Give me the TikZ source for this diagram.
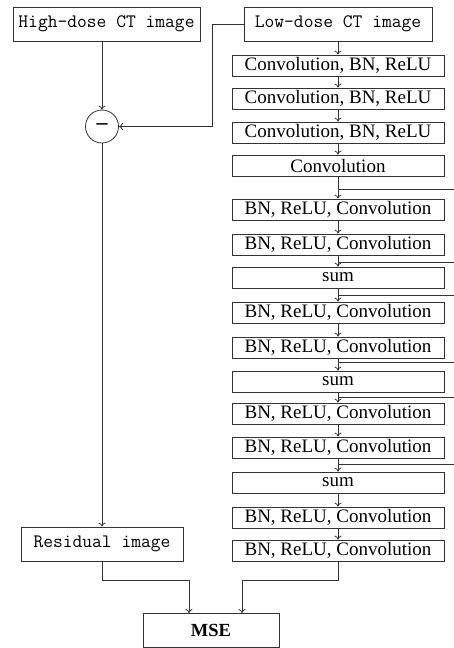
\documentclass[tikz,border=0pt]{standalone}
\usepackage{fontspec}
\setmainfont{Liberation Serif}
\usetikzlibrary{arrows.meta}
\begin{document}
\begin{tikzpicture}[x=1pt,y=-1pt,
    line/.style={black!80,line width=0.8pt},
    arr/.style={line,-{To[length=4pt,width=7pt]}},
    box/.style={draw=black!80,line width=0.8pt,minimum width=212pt,minimum height=21pt,inner sep=0pt,font=\fontsize{19}{19}\selectfont},
    ttbox/.style={draw=black!80,line width=0.8pt,minimum height=34pt,inner sep=0pt,font=\ttfamily\fontsize{19}{19}\selectfont}]
    \useasboundingbox (0,0) rectangle (454,648);

    % Eingaenge
    \node[ttbox,minimum width=187pt] (high) at (106.5,24) {High-dose CT image};
    \node[ttbox,minimum width=188pt] (low) at (338,24) {Low-dose CT image};
    \node[draw=black!80,line width=0.8pt,circle,minimum size=33pt,inner sep=0pt,font=\bfseries\fontsize{22}{22}\selectfont] (minus) at (102,126.5) {\textendash};
    \node[ttbox,minimum width=162pt] (res) at (102,544) {Residual image};
    \node[ttbox,minimum width=136pt,font=\bfseries\fontsize{18.5}{18.5}\selectfont] (mse) at (211,630) {MSE};

    % Netz
    \foreach \n/\t/\y in {1/{Convolution, BN, ReLU}/55, 2/{Convolution, BN, ReLU}/88,
        3/{Convolution, BN, ReLU}/122, 4/{Convolution}/155,
        5/{BN, ReLU, Convolution}/199, 6/{BN, ReLU, Convolution}/234, 7/{sum}/267,
        8/{BN, ReLU, Convolution}/302, 9/{BN, ReLU, Convolution}/337, 10/{sum}/371,
        11/{BN, ReLU, Convolution}/403, 12/{BN, ReLU, Convolution}/437, 13/{sum}/472,
        14/{BN, ReLU, Convolution}/507, 15/{BN, ReLU, Convolution}/540}
        \node[box] (b\n) at (338,\y+10.5) {\t};

    \draw[arr] (low) -- (b1);
    \foreach \a/\b in {1/2,2/3,3/4,4/5,5/6,6/7,7/8,8/9,9/10,10/11,11/12,12/13,13/14,14/15}
        \draw[arr] (b\a) -- (b\b);

    % Skip-Verbindungen
    \foreach \s/\y in {1/189,2/262,3/295,4/362,5/397,6/464} {
        \coordinate (s\s) at (454,\y);
        \draw[line] (s\s) -- (b1.south |- s\s);
    }

    % Differenz und Fehler
    \draw[arr] (minus |- high.south) -- (minus);
    \draw[arr] (low.west) -- (212,24) -- (212,126.5) -- (minus.east);
    \draw[arr] (minus) -- (res);
    \draw[arr] (res.south) -- (102,580) -- (189,580) -- (189,613);
    \draw[arr] (b15.south) -- (338,580) -- (242,580) -- (242,613);
\end{tikzpicture}
\end{document}
